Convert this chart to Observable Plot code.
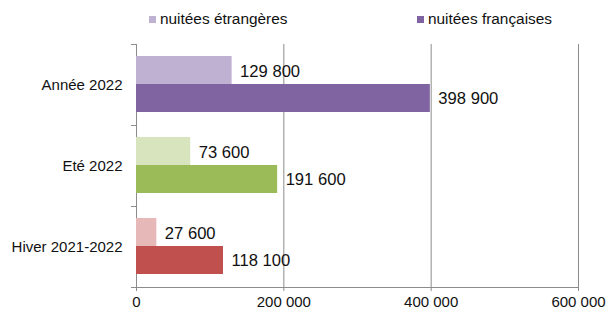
<!DOCTYPE html>
<html><head><meta charset="utf-8">
<script src="https://cdn.jsdelivr.net/npm/d3@7"></script>
<script src="https://cdn.jsdelivr.net/npm/@observablehq/plot@0.6"></script>
<style>
body{margin:0;background:#fff;font-family:"Liberation Sans",Arial,sans-serif;}
#wrap{position:relative;width:608px;height:311px;}
#wrap svg{position:absolute;left:0;top:0;}
.leg{position:absolute;top:10px;font-size:15.4px;color:#111;display:flex;align-items:center;white-space:nowrap;line-height:18px}
.sw{width:7px;height:7px;margin-right:4px;display:inline-block}
g[aria-label="x-axis tick"]{stroke:#8c8c8c}
</style></head><body>
<div id="wrap"></div>
<script>
// ---- data ----
const categories = ["Année 2022", "Eté 2022", "Hiver 2021-2022"];
const series = ["nuitées étrangères", "nuitées françaises"];
const foreignValues = [129800, 73600, 27600];
const frenchValues = [398900, 191600, 118100];
const xTicks = [0, 200000, 400000, 600000];

// ---- styles ----
const foreignColors = ["#BFB1D2", "#D7E4BD", "#E6B9B8"];
const frenchColors = ["#8064A2", "#9BBB59", "#C0504D"];
const gridColor = "#8c8c8c";

const fmt = d => d3.format(",")(d).replace(/,/g, " ");

const foreignRows = categories.map((c, i) => ({cat: c, value: foreignValues[i], key: c + "|" + series[0]}));
const frenchRows = categories.map((c, i) => ({cat: c, value: frenchValues[i], key: c + "|" + series[1]}));
const keys = [...foreignRows.map(d => d.key), ...frenchRows.map(d => d.key)];
const palette = [...foreignColors, ...frenchColors];

const W = 608, H = 311, mt = 44, mb = 24, ml = 136, mr = 30;
const bw = (H - mt - mb) / categories.length;
const last = categories[categories.length - 1];

const chart = Plot.plot({
  width: W, height: H,
  marginLeft: ml, marginRight: mr, marginTop: mt, marginBottom: mb,
  x: {domain: [0, 600000], ticks: xTicks, tickFormat: fmt, tickSize: 4, tickPadding: 5, label: null},
  y: {domain: categories, padding: 0, tickSize: 0, tickPadding: 14, label: null},
  color: {domain: keys, range: palette},
  style: {fontSize: "15px", fontFamily: "'Liberation Sans', Arial, sans-serif", color: "#111", background: "transparent"},
  marks: [
    Plot.ruleX(xTicks, {stroke: gridColor}),
    Plot.barX(foreignRows, {y: "cat", x: "value", fill: "key", insetTop: 12, insetBottom: 41}),
    Plot.barX(frenchRows, {y: "cat", x: "value", fill: "key", insetTop: 40, insetBottom: 13}),
    Plot.text(foreignRows, {y: "cat", x: "value", text: d => fmt(d.value), textAnchor: "start", dx: 8, dy: -13.5, fontSize: 16.6}),
    Plot.text(frenchRows, {y: "cat", x: "value", text: d => fmt(d.value), textAnchor: "start", dx: 8, dy: 14, fontSize: 16.6}),
    Plot.ruleY(categories, {x1: 0, x2: 0, insetLeft: -5, dy: -bw / 2, stroke: gridColor}),
    Plot.ruleY([last], {x1: 0, x2: 0, insetLeft: -5, dy: bw / 2, stroke: gridColor}),
    Plot.ruleY([last], {dy: bw / 2, stroke: gridColor})
  ]
});

const wrap = document.getElementById("wrap");
wrap.appendChild(chart);

// legend
const legendItems = [
  {label: series[0], color: foreignColors[0], left: 149},
  {label: series[1], color: frenchColors[0], left: 417}
];
for (const it of legendItems) {
  const div = document.createElement("div");
  div.className = "leg";
  div.style.left = it.left + "px";
  const sw = document.createElement("span");
  sw.className = "sw";
  sw.style.background = it.color;
  div.appendChild(sw);
  div.appendChild(document.createTextNode(it.label));
  wrap.appendChild(div);
}
</script>
</body></html>
